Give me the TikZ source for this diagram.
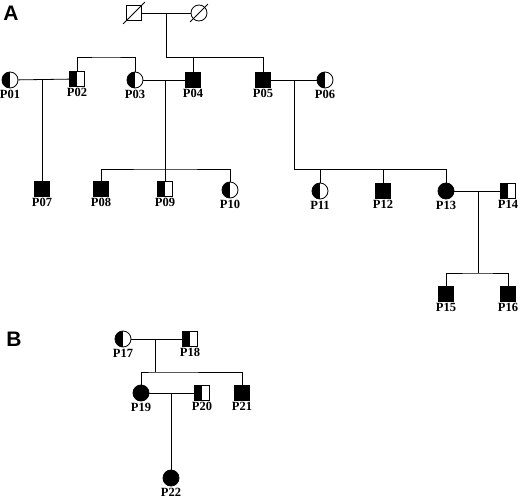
\documentclass[tikz,border=0pt]{standalone}
\usepackage{fontspec}
\setmainfont{Liberation Serif}
\setsansfont{Liberation Sans}
\usepackage{tikz}
\usetikzlibrary{positioning,calc}

\tikzset{
  male/.style={draw,rectangle,minimum size=15pt,inner sep=0pt},
  female/.style={draw,circle,minimum size=16pt,inner sep=0pt},
  aff/.style={fill=black},
  carr/.style={path picture={\fill[black] (path picture bounding box.south west) rectangle (path picture bounding box.north);}},
  every label/.style={font=\rmfamily\bfseries\fontsize{12.5}{12.5}\selectfont,inner sep=0pt,label distance=1pt},
  panel/.style={font=\sffamily\bfseries\fontsize{21}{21}\selectfont}
}

\begin{document}
\begin{tikzpicture}[x=1pt,y=-1pt,line width=0.8pt]
  \useasboundingbox (0,0) rectangle (520,498);
  \node[panel] (lblA) at (11,13) {A};
  \node[panel] (lblB) at (14,339) {B};

  % panel A
  \node[male] (gf) at (134,13) {};
  \node[female] (gm) at (199,13) {};
  \draw ([shift={(-3,3)}]gf.south west) -- ([shift={(3,-3)}]gf.north east);
  \draw ([shift={(-3,3)}]gm.south west) -- ([shift={(3,-3)}]gm.north east);

  \node[female,carr,label=below:P01] (P01) at (10,80) {};
  \node[male,carr,label=below:P02] (P02) at (77,79) {};
  \node[female,carr,label=below:P03] (P03) at (135,80) {};
  \node[male,aff,label=below:P04] (P04) at (193,80) {};
  \node[male,aff,label=below:P05] (P05) at (263,80) {};
  \node[female,carr,label=below:P06] (P06) at (325,80) {};

  \node[male,aff,label=below:P07] (P07) at (42,189) {};
  \node[male,aff,label=below:P08] (P08) at (101,189) {};
  \node[male,carr,label=below:P09] (P09) at (165,189) {};
  \node[female,carr,label=below:P10] (P10) at (230,190) {};
  \node[female,carr,label=below:P11] (P11) at (320,191) {};
  \node[male,aff,label=below:P12] (P12) at (383,191) {};
  \node[female,aff,label=below:P13] (P13) at (446,191) {};
  \node[male,carr,label=below:P14] (P14) at (508,191) {};
  \node[male,aff,label=below:P15] (P15) at (446,294) {};
  \node[male,aff,label=below:P16] (P16) at (508,294) {};

  \coordinate (m0) at (166,13);
  \coordinate (s0) at (166,57);
  \coordinate (s23) at (106,57);
  \coordinate (m1) at (42,80);
  \coordinate (m2) at (165,80);
  \coordinate (s2) at (165,169);
  \coordinate (m3) at (294,80);
  \coordinate (s3) at (294,169);
  \coordinate (m4) at (478,191);
  \coordinate (s4) at (478,273);

  \draw (gf) -- (gm);
  \draw (m0) -- (s0) -| (P04.north);
  \draw (s0) -| (P05.north);
  \draw (P02.north) |- (s23) -| (P03.north);

  \draw (P01) -- (P02);
  \draw (m1) -- (P07.north);

  \draw (P03) -- (P04);
  \draw (m2) -- (s2);
  \draw (P08.north) |- (s2) -| (P10.north);
  \draw (s2) -- (P09.north);

  \draw (P05) -- (P06);
  \draw (m3) -- (s3) -| (P13.north);
  \draw (P11.north) -- (P11.north |- s3);
  \draw (P12.north) -- (P12.north |- s3);

  \draw (P13) -- (P14);
  \draw (m4) -- (s4);
  \draw (P15.north) |- (s4) -| (P16.north);

  % panel B
  \node[female,carr,label=below:P17] (P17) at (123,339) {};
  \node[male,carr,label=below:P18] (P18) at (190,339) {};
  \node[female,aff,label=below:P19] (P19) at (141,393) {};
  \node[male,carr,label=below:P20] (P20) at (202,393) {};
  \node[male,aff,label=below:P21] (P21) at (242,393) {};
  \node[female,aff,label=below:P22] (P22) at (171,478) {};

  \coordinate (m5) at (155,339);
  \coordinate (s5) at (155,372);
  \coordinate (m6) at (171,393);

  \draw (P17) -- (P18);
  \draw (m5) -- (s5);
  \draw (P19.north) |- (s5) -| (P21.north);
  \draw (P19) -- (P20);
  \draw (m6) -- (P22.north);
\end{tikzpicture}
\end{document}
